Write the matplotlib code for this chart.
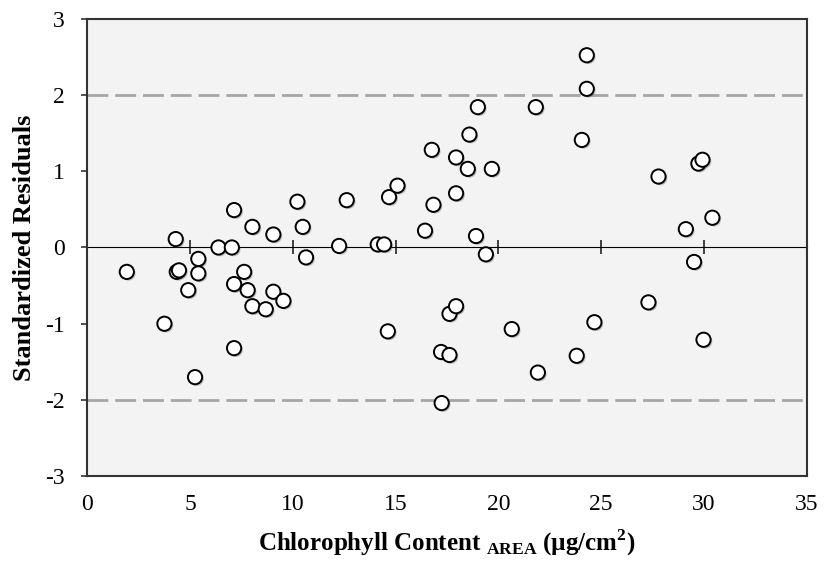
import matplotlib
matplotlib.use("Agg")
import matplotlib.pyplot as plt
import matplotlib.patheffects as pe

# chlorophyll content (ug/cm2) and standardized residuals
chl = [1.92, 3.75, 4.30, 4.35, 4.46, 4.91, 5.24, 5.40, 5.40, 6.38,
       7.03, 7.14, 7.14, 7.14, 7.63, 7.80, 8.03, 8.03, 8.68, 9.05,
       9.05, 9.54, 10.22, 10.48, 10.64, 12.25, 12.62, 14.13, 14.44, 14.62,
       14.68, 15.09, 16.43, 16.76, 16.84, 17.21, 17.24, 17.62, 17.62, 17.94,
       17.94, 17.94, 18.51, 18.59, 18.91, 19.00, 19.39, 19.68, 20.65, 21.82,
       21.92, 23.81, 24.06, 24.30, 24.30, 24.67, 27.30, 27.79, 29.12, 29.52,
       29.73, 29.93, 29.98, 30.41]
resid = [-0.32, -1.00, 0.11, -0.32, -0.30, -0.56, -1.70, -0.15, -0.34, 0.00,
         0.00, 0.49, -0.48, -1.32, -0.32, -0.56, 0.27, -0.77, -0.81, 0.17,
         -0.58, -0.70, 0.60, 0.27, -0.13, 0.02, 0.62, 0.04, 0.04, -1.10,
         0.66, 0.81, 0.22, 1.28, 0.56, -1.37, -2.04, -0.87, -1.41, 1.18,
         0.71, -0.77, 1.03, 1.48, 0.15, 1.84, -0.09, 1.03, -1.07, 1.84,
         -1.64, -1.42, 1.41, 2.52, 2.08, -0.98, -0.72, 0.93, 0.24, -0.19,
         1.10, 1.15, -1.21, 0.39]

xticks = [0, 5, 10, 15, 20, 25, 30, 35]
yticks = [-3, -2, -1, 0, 1, 2, 3]
limits = [-2, 2]

plt.rcParams['font.family'] = ['Liberation Serif', 'DejaVu Serif']
plt.rcParams['axes.unicode_minus'] = False
plt.rcParams['mathtext.fontset'] = 'custom'
plt.rcParams['mathtext.rm'] = 'Liberation Serif'
plt.rcParams['mathtext.bf'] = 'Liberation Serif:bold'

fig = plt.figure(figsize=(8.24, 5.65), dpi=100)
ax = fig.add_axes([0.106, 0.157, 0.873, 0.810])
ax.set_facecolor('#f3f3f3')

for v in limits:
    ax.axhline(v, color='#a6a6a6', lw=2, dashes=(7.5, 2.5), zorder=1)

ax.scatter(chl, resid, s=105, facecolor='white', edgecolor='black', lw=1.4, zorder=3,
           path_effects=[pe.SimplePatchShadow(offset=(1.2, -1.2), shadow_rgbFace='#555555', alpha=0.35),
                         pe.Normal()])

ax.set_xlim(0, 35)
ax.set_ylim(-3, 3)
ax.set_xticks(xticks)
ax.set_yticks(yticks)
ax.tick_params(axis='x', length=0, pad=13, labelsize=17)
ax.tick_params(axis='y', length=4, width=1.2, pad=12, labelsize=17, color='#333333')

# x axis line crossing at zero, carrying the tick marks
zero = ax.secondary_xaxis(0.5)
zero.set_xticks(xticks)
zero.set_xticklabels([])
zero.tick_params(direction='inout', length=10, width=1.3, color='#333333')
zero.spines['bottom'].set_linewidth(1.5)
zero.spines['bottom'].set_color('#333333')
zero.set_zorder(2)

for s in ax.spines.values():
    s.set_linewidth(1.5)
    s.set_color('#333333')

ax.set_xlabel(r'Chlorophyll Content $_{\mathbf{AREA}}$ (µg/cm$^{\mathbf{2}}$)',
              fontsize=18, fontweight='bold', labelpad=9)
ax.set_ylabel('Standardized Residuals', fontsize=19, fontweight='bold', labelpad=7)

fig.savefig('out.png', dpi=100)
